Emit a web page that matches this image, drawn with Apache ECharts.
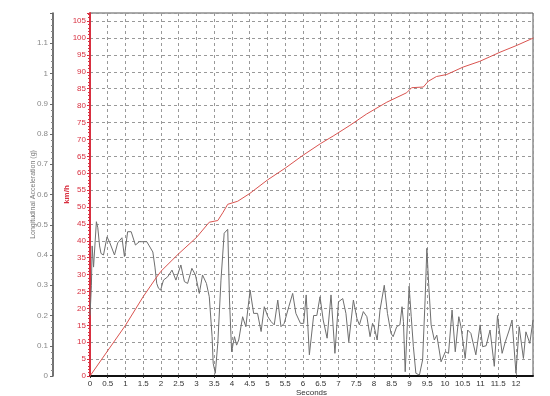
<!DOCTYPE html>
<html>
<head>
<meta charset="utf-8">
<script src="https://cdn.jsdelivr.net/npm/echarts@6/dist/echarts.min.js"></script>
<style>
html,body{margin:0;padding:0;background:#fff;}
#chart{width:550px;height:396px;}
</style>
</head>
<body>
<div id="chart"></div>
<script>
// Longitudinal acceleration (g) samples
const accelTime = [0.00,0.04,0.06,0.10,0.18,0.22,0.27,0.31,0.38,0.48,0.56,0.69,0.78,0.90,0.97,1.06,1.16,1.28,1.39,1.50,1.60,1.67,1.77,1.83,1.88,1.93,1.99,2.07,2.19,2.31,2.42,2.56,2.66,2.75,2.87,2.97,3.08,3.17,3.28,3.36,3.44,3.47,3.53,3.60,3.69,3.78,3.88,3.91,3.93,3.99,4.07,4.13,4.19,4.30,4.39,4.51,4.61,4.72,4.82,4.91,5.01,5.10,5.19,5.29,5.38,5.47,5.60,5.71,5.80,5.93,6.02,6.09,6.18,6.30,6.39,6.48,6.57,6.68,6.79,6.90,7.00,7.12,7.21,7.29,7.42,7.52,7.59,7.70,7.80,7.89,7.96,8.01,8.09,8.17,8.29,8.38,8.48,8.54,8.64,8.73,8.79,8.83,8.88,8.92,8.99,9.05,9.11,9.18,9.28,9.37,9.44,9.49,9.54,9.61,9.70,9.77,9.89,10.01,10.10,10.20,10.29,10.39,10.45,10.57,10.64,10.73,10.87,10.99,11.06,11.16,11.27,11.39,11.48,11.61,11.70,11.81,11.89,12.00,12.09,12.21,12.28,12.39,12.48];
const accelG = [0.20,0.30,0.43,0.36,0.51,0.49,0.43,0.405,0.40,0.46,0.44,0.40,0.44,0.457,0.395,0.477,0.477,0.433,0.444,0.444,0.444,0.43,0.41,0.36,0.306,0.29,0.284,0.317,0.328,0.35,0.317,0.367,0.312,0.306,0.356,0.334,0.273,0.334,0.306,0.262,0.13,0.042,0.009,0.108,0.317,0.472,0.485,0.48,0.251,0.08,0.13,0.102,0.119,0.196,0.163,0.284,0.207,0.207,0.147,0.229,0.196,0.18,0.169,0.251,0.163,0.174,0.229,0.273,0.207,0.174,0.174,0.268,0.07,0.20,0.20,0.262,0.185,0.125,0.268,0.075,0.245,0.256,0.207,0.113,0.251,0.19,0.169,0.213,0.196,0.13,0.174,0.16,0.119,0.218,0.30,0.207,0.141,0.13,0.163,0.169,0.229,0.18,0.014,0.12,0.297,0.196,0.097,0.009,0.003,0.053,0.251,0.422,0.306,0.169,0.119,0.135,0.047,0.08,0.075,0.218,0.08,0.196,0.163,0.058,0.152,0.141,0.07,0.169,0.097,0.10,0.152,0.032,0.20,0.075,0.113,0.152,0.185,0.009,0.163,0.058,0.146,0.108,0.185];

// Speed (km/h) samples
const speedTime = [0,0.5,1.0,1.5,1.86,2.0,2.48,3.0,3.36,3.6,3.74,3.88,4.16,4.5,5.0,5.5,6.0,6.5,6.85,7.3,7.79,8.36,8.92,9.06,9.39,9.53,9.76,10.05,10.51,10.98,11.55,12.02,12.49];
const speedKmh = [0,7.5,15.0,23.5,29,31,36,41,45.5,46,48.3,50.8,51.7,54,58,61.5,65.3,68.8,71,74,77.5,81,83.8,85.3,85.5,87.2,88.6,89.2,91.4,93.1,95.8,97.8,100];

const accelData = accelTime.map((t, i) => [t, accelG[i]]);
const speedData = speedTime.map((t, i) => [t, speedKmh[i]]);

const FONT = 'Liberation Sans';
const chart = echarts.init(document.getElementById('chart'), null, {renderer: 'canvas'});
chart.setOption({
  animation: false,
  backgroundColor: '#fff',
  grid: {left: 90, right: 17, top: 13, bottom: 20, show: true, borderColor: '#555', borderWidth: 1,
    backgroundColor: 'transparent', containLabel: false, outerBoundsMode: 'none'},
  xAxis: {
    type: 'value', min: 0, max: 12.48, interval: 0.5,
    name: 'Seconds', nameLocation: 'middle', nameGap: 13, nameMoveOverlap: false,
    nameTextStyle: {fontFamily: FONT, fontSize: 8, color: '#333'},
    axisLine: {lineStyle: {color: '#111', width: 2}},
    axisTick: {show: true, length: 2, lineStyle: {color: '#333'}},
    axisLabel: {fontFamily: FONT, fontSize: 8, color: '#333', margin: 4, showMaxLabel: false},
    splitLine: {show: true, lineStyle: {color: '#999', type: [3, 3], width: 1}}
  },
  yAxis: [
    {
      type: 'value', min: 0, max: 107.4, interval: 5, position: 'left',
      name: 'km/h', nameLocation: 'middle', nameGap: 23, nameRotate: 90, nameMoveOverlap: false,
      nameTextStyle: {fontFamily: FONT, fontSize: 8, color: '#d83040', fontWeight: 'bold', verticalAlign: 'middle'},
      axisLine: {show: true, lineStyle: {color: '#d83040', width: 2}},
      axisTick: {show: true, length: 3, lineStyle: {color: '#d83040'}},
      minorTick: {show: true, splitNumber: 5, length: 2, lineStyle: {color: '#d83040'}},
      axisLabel: {fontFamily: FONT, fontSize: 8, color: '#d83040', margin: 4, showMaxLabel: false},
      splitLine: {show: true, lineStyle: {color: '#999', type: [3, 3], width: 1}}
    },
    {
      type: 'value', min: 0, max: 1.2, interval: 0.1, position: 'left', offset: 37,
      name: 'Longitudinal Acceleration (g)', nameLocation: 'middle', nameGap: 20, nameRotate: 90, nameMoveOverlap: false,
      nameTextStyle: {fontFamily: FONT, fontSize: 7, color: '#777', verticalAlign: 'middle'},
      axisLine: {show: true, lineStyle: {color: '#444', width: 1.5}},
      axisTick: {show: true, length: 3, lineStyle: {color: '#666'}},
      minorTick: {show: true, splitNumber: 5, length: 2, lineStyle: {color: '#888'}},
      axisLabel: {fontFamily: FONT, fontSize: 8, color: '#888', margin: 5, showMaxLabel: false,
        formatter: v => String(Math.round(v * 10) / 10)},
      splitLine: {show: false}
    }
  ],
  series: [
    {
      name: 'Longitudinal Acceleration', type: 'line', yAxisIndex: 1, data: accelData,
      showSymbol: false, lineStyle: {color: '#6e6e6e', width: 1}, z: 3
    },
    {
      name: 'Speed', type: 'line', yAxisIndex: 0, data: speedData,
      showSymbol: false, lineStyle: {color: '#d9534f', width: 1}, z: 4
    }
  ]
});
</script>
</body>
</html>
